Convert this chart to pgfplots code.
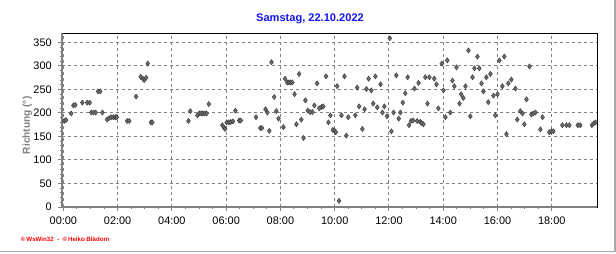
\documentclass[border=0pt]{standalone}
\usepackage{fontspec}
\setmainfont{Liberation Sans}
\usepackage{pgfplots}
\pgfplotsset{compat=1.18}
\definecolor{titleblue}{RGB}{20,20,240}
\definecolor{axgray}{RGB}{128,128,128}
\definecolor{mkgray}{RGB}{110,110,110}
\begin{document}
\begin{tikzpicture}
\path[use as bounding box] (0pt,0pt) rectangle (462pt,-189.75pt);
\draw[color={rgb,255:red,170;green,170;blue,170}, line width=1.1pt] (0pt,-188.5pt) -- (461.2pt,-188.5pt) -- (461.2pt,0pt);
\begin{axis}[
  at={(46.3pt,-155.25pt)}, anchor=south west,
  scale only axis, width=401.7pt, height=130.3pt,
  xmin=-0.06, xmax=19.68, ymin=0, ymax=369.6,
  xtick={0,2,4,6,8,10,12,14,16,18},
  xticklabels={00:00,02:00,04:00,06:00,08:00,10:00,12:00,14:00,16:00,18:00},
  minor x tick num=3,
  ytick={0,50,100,150,200,250,300,350},
  minor y tick num=4,
  xtick pos=bottom, ytick pos=left,
  tick align=outside,
  major tick length=3pt, minor tick length=1.6pt,
  every tick/.style={axgray, line width=0.75pt},
  grid=major,
  major grid style={axgray, line width=0.75pt, dash pattern=on 2.25pt off 2.25pt},
  axis line style={black, line width=0.75pt},
  tick label style={font=\fontsize{8.2}{9}\selectfont, black},
  /pgf/number format/assume math mode=true,
  xticklabel style={yshift=-1pt},
  yticklabel style={xshift=-1pt},
  clip=false,
]
\addplot[only marks, mark=diamond*, mark size=1.9pt, mark options={fill=mkgray, draw=black!75, line width=0.4pt}] table {
x y
0.03 183
0.10 185
0.29 199
0.37 216
0.44 217
0.70 222
0.88 222
0.97 222
1.03 201
1.11 201
1.19 201
1.28 246
1.36 246
1.44 201
1.61 186
1.68 189
1.76 191
1.84 191
1.91 191
1.97 191
2.35 183
2.43 183
2.68 235
2.85 277
2.93 273
2.98 270
3.05 275
3.11 305
3.23 180
3.28 180
4.61 183
4.68 204
4.94 195
5.01 199
5.08 199
5.14 199
5.21 199
5.28 199
5.36 219
5.86 174
5.92 169
5.96 166
6.02 180
6.10 180
6.17 181
6.25 182
6.34 205
6.48 184
6.54 184
7.10 191
7.26 168
7.32 168
7.45 208
7.52 201
7.59 162
7.67 308
7.77 234
7.85 204
7.93 188
8.11 170
8.17 273
8.25 265
8.31 265
8.37 265
8.44 265
8.52 240
8.59 176
8.69 283
8.77 186
8.85 147
8.92 227
9.01 205
9.09 202
9.18 202
9.25 216
9.35 263
9.43 210
9.52 213
9.58 214
9.68 278
9.77 180
9.84 195
9.93 164
10.00 162
10.04 159
10.09 257
10.16 13
10.25 195
10.36 278
10.43 152
10.50 191
10.76 195
10.83 254
10.90 214
11.02 166
11.10 208
11.17 251
11.25 273
11.35 248
11.42 220
11.50 278
11.57 212
11.69 261
11.76 201
11.83 214
11.93 193
12.03 359
12.09 161
12.17 201
12.27 280
12.36 188
12.42 201
12.51 222
12.60 242
12.69 276
12.74 174
12.81 183
12.89 184
12.94 252
13.04 183
13.09 264
13.15 181
13.20 179
13.27 176
13.34 276
13.42 220
13.49 276
13.67 273
13.75 261
13.82 210
13.95 305
14.01 248
14.08 191
14.15 312
14.26 201
14.34 269
14.41 257
14.49 297
14.60 220
14.66 240
14.74 232
14.82 257
14.93 333
15.00 193
15.08 276
15.15 295
15.26 320
15.33 295
15.41 263
15.48 246
15.59 276
15.66 223
15.74 283
15.85 237
15.92 195
16.00 240
16.07 312
16.18 257
16.25 320
16.33 155
16.40 263
16.51 271
16.66 252
16.73 186
16.84 204
16.92 199
16.99 176
17.07 229
17.18 299
17.25 197
17.32 199
17.40 201
17.58 165
17.66 191
17.91 159
17.99 161
18.06 161
18.39 174
18.54 174
18.65 174
18.96 174
19.05 174
19.48 174
19.55 178
19.61 180
};
\draw[axgray, line width=1.5pt] (rel axis cs:0,1) -- (rel axis cs:0,0) -- (rel axis cs:1,0);
\end{axis}
\node[font=\fontsize{8.3}{10}\selectfont\bfseries, text=titleblue] at (232.5pt,-14.25pt) {Samstag, 22.10.2022};
\node[font=\fontsize{7.6}{9}\selectfont\bfseries, text=axgray, rotate=90] at (20.5pt,-94pt) {Richtung (°)};
\node[font=\fontsize{4.6}{6}\selectfont\bfseries, text=red, anchor=west, inner sep=0pt] at (15.5pt,-179.5pt) {\textcopyright\,WsWin32 \ - \ \textcopyright\,Heiko Blädorn};
\end{tikzpicture}
\end{document}
